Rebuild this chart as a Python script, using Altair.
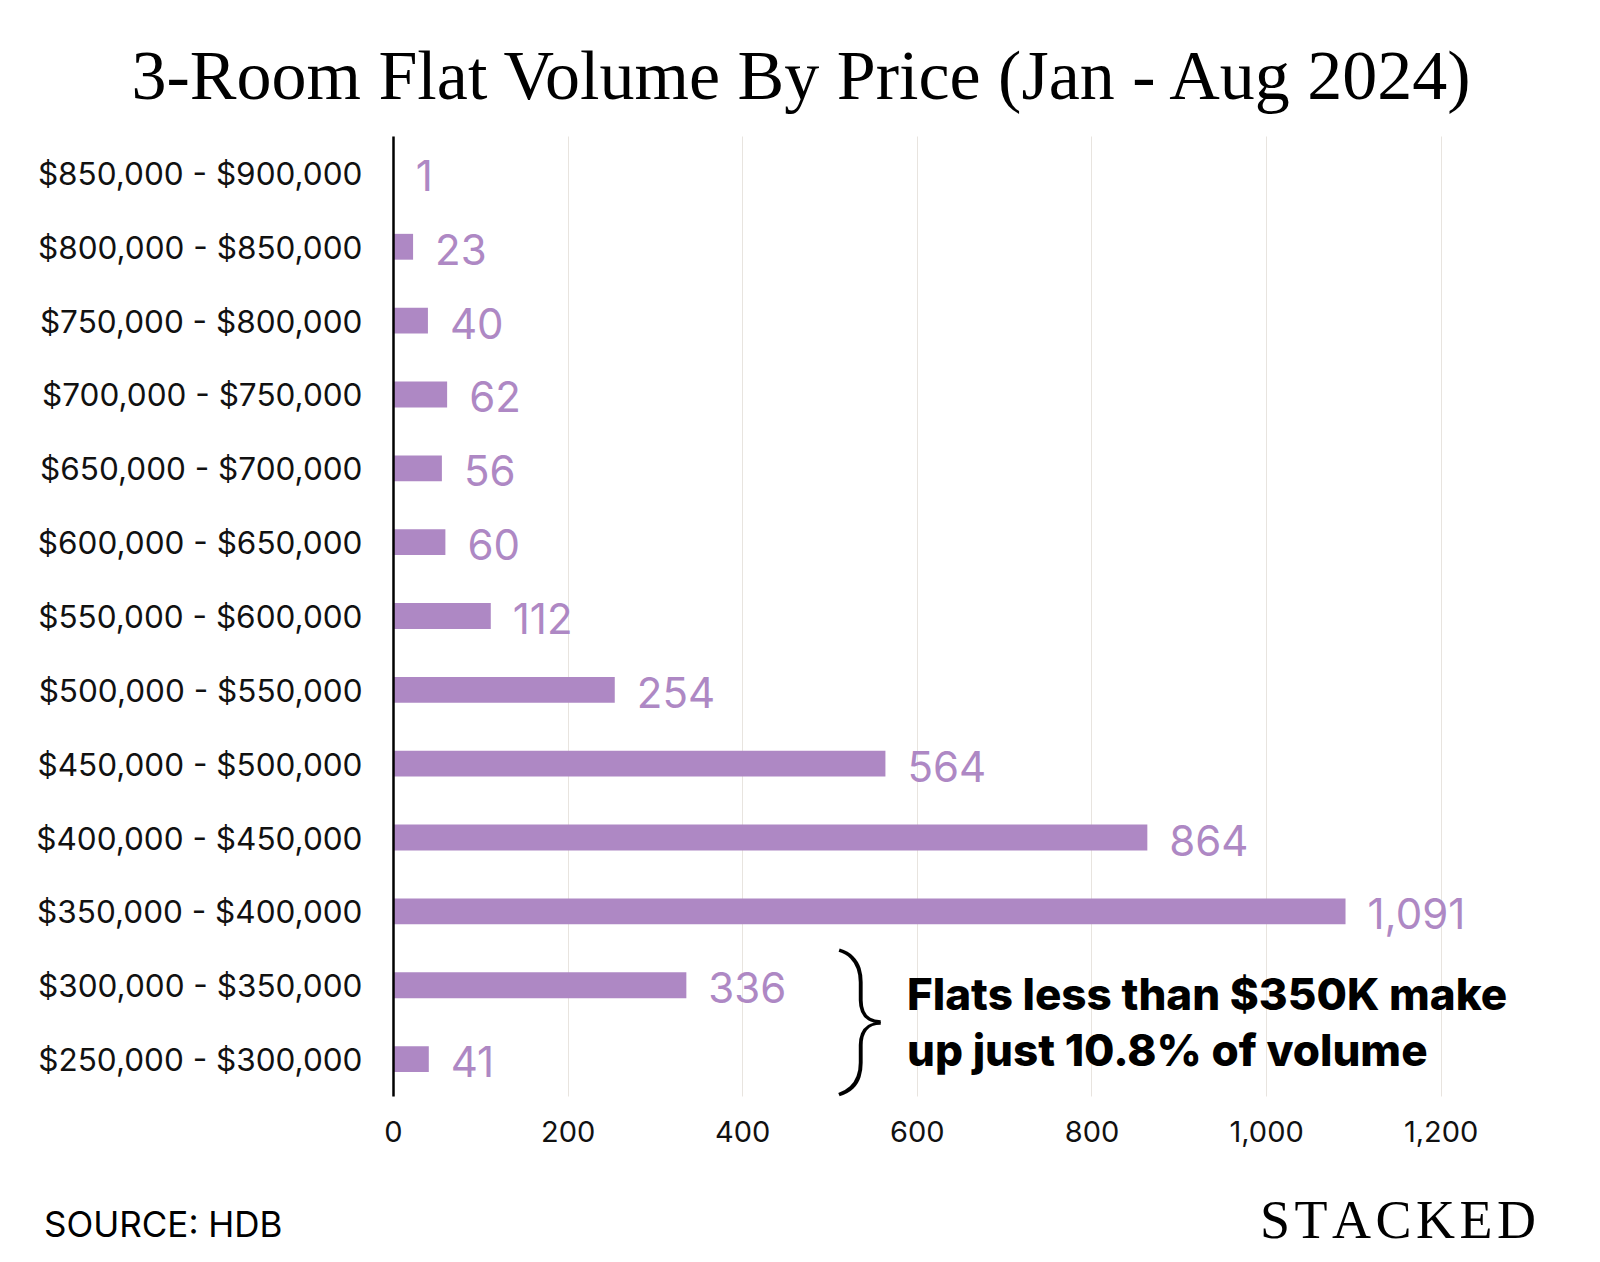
import altair as alt
import pandas as pd

categories = [
    "$850,000 - $900,000", "$800,000 - $850,000", "$750,000 - $800,000",
    "$700,000 - $750,000", "$650,000 - $700,000", "$600,000 - $650,000",
    "$550,000 - $600,000", "$500,000 - $550,000", "$450,000 - $500,000",
    "$400,000 - $450,000", "$350,000 - $400,000", "$300,000 - $350,000",
    "$250,000 - $300,000",
]
volumes = [1, 23, 40, 62, 56, 60, 112, 254, 564, 864, 1091, 336, 41]
value_labels = ["1", "23", "40", "62", "56", "60", "112", "254", "564", "864", "1,091", "336", "41"]
x_ticks = [0, 200, 400, 600, 800, 1000, 1200]

title_text = "3-Room Flat Volume By Price (Jan - Aug 2024)"
note_lines = ["Flats less than $350K make", "up just 10.8% of volume"]
source_text = "SOURCE: HDB"
brand_text = "S\u200aT\u200aA\u200aC\u200aK\u200aE\u200aD"

PURPLE = "#AE88C4"
W, H = 1135, 960

df = pd.DataFrame({"range": categories, "volume": volumes, "label": value_labels})
one = pd.DataFrame({"k": [0]})

y_enc = alt.Y(
    "range:N", sort=categories, title=None,
    scale=alt.Scale(paddingInner=0.65, paddingOuter=0.325),
    axis=alt.Axis(labelFont="Inter", labelFontSize=31.5, labelColor="#111111",
                  labelPadding=31, labelOffset=3, ticks=False, domainColor="#000000",
                  domainWidth=2.5, labelLimit=500, zindex=1),
)
x_enc = alt.X(
    "volume:Q", title=None,
    scale=alt.Scale(domain=[0, 1300], nice=False),
    axis=alt.Axis(values=x_ticks, format=",d", ticks=False, domain=False,
                  labelFlush=False,
                  gridColor="#e8e4df", gridWidth=1, labelFont="Inter",
                  labelFontSize=29, labelPadding=22, labelColor="#111111"),
)

bars = alt.Chart(df).mark_bar(color=PURPLE).encode(x=x_enc, y=y_enc)
labels = alt.Chart(df).mark_text(
    align="left", baseline="middle", dx=22, dy=5, fontSize=42,
    font="Inter", color=PURPLE,
).encode(x="volume:Q", y=alt.Y("range:N", sort=categories), text="label:N")

title = alt.Chart(one).mark_text(
    text=title_text, font="Liberation Serif", fontSize=70, align="center",
    baseline="alphabetic", color="#000000",
).encode(x=alt.value(408), y=alt.value(-37))

note = alt.Chart(one).mark_text(
    text=note_lines, font="Inter", fontSize=44, fontWeight=800,
    align="left", baseline="alphabetic", lineHeight=56, color="#000000",
).encode(x=alt.value(514), y=alt.value(874))

brace = alt.Chart(one).mark_text(
    text="}", font="Roboto", fontWeight=100, fontSize=148, align="center",
    baseline="middle", color="#000000",
).encode(x=alt.value(469), y=alt.value(884))

source = alt.Chart(one).mark_text(
    text=source_text, font="Inter", fontSize=35, align="left",
    baseline="alphabetic", color="#000000",
).encode(x=alt.value(-349), y=alt.value(1101))

brand = alt.Chart(one).mark_text(
    text=brand_text, font="Liberation Serif", fontSize=54, align="right",
    baseline="alphabetic", color="#000000",
).encode(x=alt.value(1143), y=alt.value(1102))

chart = alt.layer(bars, labels, title, note, brace, source, brand).properties(
    width=W, height=H,
    padding={"left": 385, "top": 128, "right": 64, "bottom": 158},
    autosize=alt.AutoSizeParams(type="none"),
    background="#ffffff",
).configure_view(stroke=None)

chart.save("out.html", embed_options={"renderer": "svg", "actions": False})
